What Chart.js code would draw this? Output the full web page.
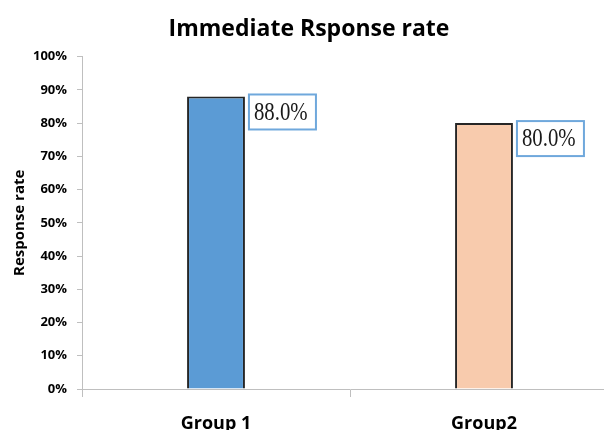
<!DOCTYPE html>
<html>
<head>
<meta charset="utf-8">
<title>Immediate Rsponse rate</title>
<script src="https://cdn.jsdelivr.net/npm/chart.js@4.4.1/dist/chart.umd.min.js"></script>
<style>
  html, body { margin: 0; padding: 0; background: #fff; overflow: hidden; }
  #wrap { width: 620px; height: 440px; }
</style>
</head>
<body>
<div id="wrap"><canvas id="rateChart" width="620" height="440"></canvas></div>
<script>
// data
const groups = ['Group 1', 'Group2'];
const responseRates = [88.0, 80.0];
const rateTicks = [0, 10, 20, 30, 40, 50, 60, 70, 80, 90, 100];

// value boxes to the right of each bar
const boxLabels = {
    id: 'boxLabels',
    afterDatasetsDraw(chart) {
        const ctx = chart.ctx;
        const meta = chart.getDatasetMeta(0);
        meta.data.forEach((bar, i) => {
            const x = bar.x + bar.width / 2 + 4;
            const y = bar.y - 2;
            const w = 67, h = 35;
            ctx.save();
            ctx.fillStyle = '#fff';
            ctx.fillRect(x, y, w, h);
            ctx.strokeStyle = '#6fa8dc';
            ctx.lineWidth = 2;
            ctx.strokeRect(x, y, w, h);
            ctx.fillStyle = '#1a1a1a';
            ctx.font = '26px "Liberation Serif"';
            ctx.textBaseline = 'middle';
            ctx.translate(x + 5, y + h / 2 + 1);
            ctx.scale(0.8, 1);
            ctx.fillText(responseRates[i].toFixed(1) + '%', 0, 0);
            ctx.restore();
        });
    }
};

new Chart(document.getElementById('rateChart'), {
    type: 'bar',
    data: {
        labels: groups,
        datasets: [{
            data: responseRates,
            backgroundColor: ['#5b9bd5', '#f8cbad'],
            borderColor: '#262626',
            borderWidth: 2,
            borderSkipped: 'bottom',
            categoryPercentage: 1,
            barPercentage: 0.216
        }]
    },
    options: {
        responsive: false,
        animation: false,
        devicePixelRatio: 1,
        layout: { padding: { left: 0, right: 2, top: 0, bottom: 0 } },
        plugins: {
            legend: { display: false },
            tooltip: { enabled: false },
            title: {
                display: true,
                text: 'Immediate Rsponse rate',
                color: '#000',
                font: { family: '"Open Sans"', size: 23, weight: 'bold' },
                padding: { top: 16, bottom: 13 }
            }
        },
        scales: {
            x: {
                grid: {
                    drawOnChartArea: false,
                    color: '#bfbfbf',
                    tickLength: 8
                },
                border: { color: '#bfbfbf' },
                ticks: {
                    color: '#000',
                    padding: 16,
                    font: { family: '"Open Sans"', size: 18, weight: 'bold' }
                },
                afterFit(s) { s.height = 51; }
            },
            y: {
                min: 0,
                max: 100,
                afterBuildTicks(s) { s.ticks = rateTicks.map(v => ({ value: v })); },
                grid: {
                    drawOnChartArea: false,
                    color: '#bfbfbf',
                    tickLength: 5
                },
                border: { color: '#bfbfbf' },
                ticks: {
                    color: '#000',
                    padding: 10,
                    font: { family: '"Open Sans"', size: 13, weight: 'bold' },
                    callback: v => v + '%'
                },
                title: {
                    display: true,
                    text: 'Response rate',
                    color: '#000',
                    font: { family: '"Open Sans"', size: 15, weight: 'bold' },
                    padding: { top: 11, bottom: 0 }
                },
                afterFit(s) { s.width = 82; }
            }
        }
    },
    plugins: [boxLabels]
});
</script>
</body>
</html>
